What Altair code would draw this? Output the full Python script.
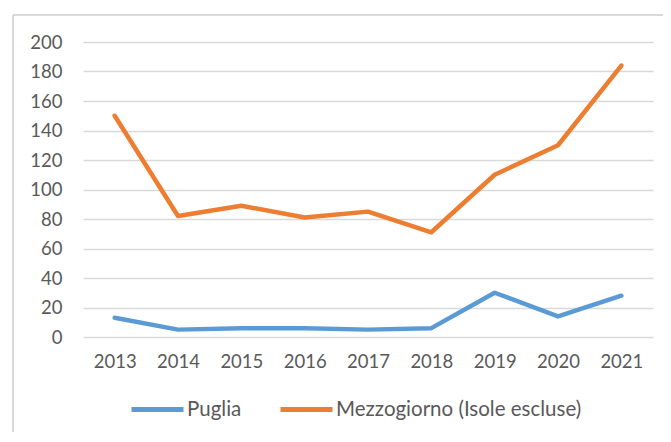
import altair as alt
import pandas as pd

years = ["2013", "2014", "2015", "2016", "2017", "2018", "2019", "2020", "2021"]
puglia = [13, 5, 6, 6, 5, 6, 30, 14, 28]
mezzogiorno = [150, 82, 89, 81, 85, 71, 110, 130, 184]
series = ["Puglia", "Mezzogiorno (Isole escluse)"]
colors = ["#5B9BD5", "#ED7D31"]

rows = []
for y, v in zip(years, puglia):
    rows.append({"anno": y, "valore": v, "serie": series[0]})
for y, v in zip(years, mezzogiorno):
    rows.append({"anno": y, "valore": v, "serie": series[1]})
df = pd.DataFrame(rows)

font = "Lato"
fs = 18.5

lines = alt.Chart(df).mark_line(strokeWidth=4.5, strokeCap="round", strokeJoin="round").encode(
    x=alt.X("anno:O", sort=years, title=None,
            scale=alt.Scale(type="point", padding=0.5),
            axis=alt.Axis(labelAngle=0, ticks=False, domain=False, grid=False,
                          labelPadding=15, labelFontSize=fs, labelColor="#595959", labelFont=font)),
    y=alt.Y("valore:Q", title=None,
            scale=alt.Scale(domain=[0, 200], nice=False),
            axis=alt.Axis(values=list(range(0, 201, 20)), ticks=False, domain=False,
                          gridColor="#D9D9D9", gridWidth=1.5, labelPadding=21,
                          labelFontSize=fs, labelColor="#595959", labelFont=font)),
    color=alt.Color("serie:N", sort=series,
                    scale=alt.Scale(domain=series, range=colors),
                    legend=alt.Legend(title=None, orient="none", direction="horizontal",
                                      legendX=46, legendY=339,
                                      symbolType="stroke", symbolSize=2704, symbolStrokeWidth=5,
                                      labelFontSize=20.5, labelColor="#595959", labelFont=font,
                                      labelLimit=400, labelOffset=1, columnPadding=28)),
)

border_left = alt.Chart(df).mark_rule(color="#D9D9D9", strokeWidth=1.5).encode(
    x=alt.value(-70), y=alt.value(-27), y2=alt.value(420))
border_top = alt.Chart(df).mark_rule(color="#D9D9D9", strokeWidth=1.5).encode(
    x=alt.value(-70), x2=alt.value(600), y=alt.value(-27))

chart = alt.layer(border_left, border_top, lines).properties(
    width=570, height=295,
    padding={"left": 75, "top": 34, "right": 10, "bottom": 95},
    autosize=alt.AutoSizeParams(type="none"),
).configure_view(stroke=None)

chart.save("out.html", embed_options={"renderer": "svg", "actions": False})
